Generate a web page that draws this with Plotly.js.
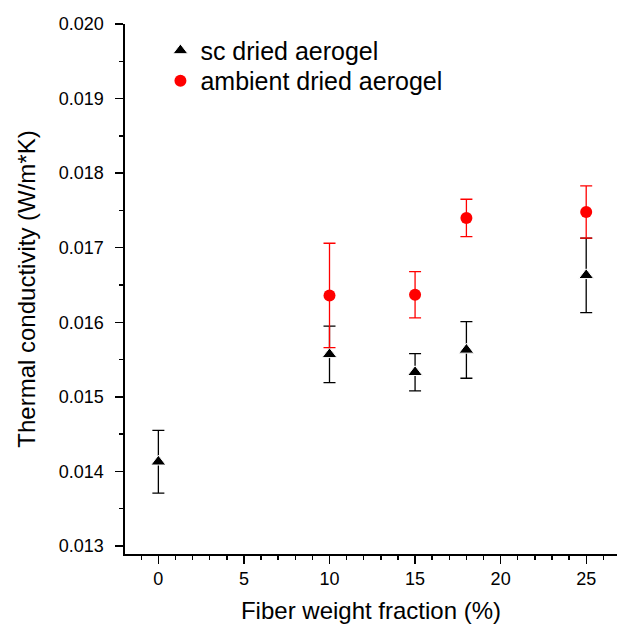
<!DOCTYPE html>
<html>
<head>
<meta charset="utf-8">
<script src="https://cdn.plot.ly/plotly-3.0.1.min.js"></script>
<style>html,body{margin:0;padding:0;background:#fff;}#chart{width:617px;height:628px;}</style>
</head>
<body>
<div id="chart"></div>
<script>
const scFiber = [0, 10, 15, 18, 25];
const scConductivity = [0.01413, 0.01557, 0.01533, 0.01563, 0.01663];
const scError = [0.00042, 0.00038, 0.00025, 0.00038, 0.00050];

const ambientFiber = [10, 15, 18, 25];
const ambientConductivity = [0.01636, 0.01637, 0.01740, 0.01748];
const ambientError = [0.00070, 0.00031, 0.00025, 0.00035];

const seriesNames = ["sc dried aerogel", "ambient dried aerogel"];
const xTitle = "Fiber weight fraction (%)";
const yTitle = "Thermal conductivity (W/m*K)";

const FONT = "Liberation Sans, Arial, sans-serif";

const traces = [
  {
    x: scFiber, y: scConductivity, name: seriesNames[0], type: "scatter", mode: "markers",
    legend: "legend",
    marker: {symbol: "triangle-up", size: 13, color: "#000000", line: {color: "#ffffff", width: 1}},
    error_y: {type: "data", array: scError, visible: true, color: "#000000", thickness: 1.3, width: 6}
  },
  {
    x: ambientFiber, y: ambientConductivity, name: seriesNames[1], type: "scatter", mode: "markers",
    legend: "legend2",
    marker: {symbol: "circle", size: 12, color: "#ff0000"},
    error_y: {type: "data", array: ambientError, visible: true, color: "#ff0000", thickness: 1.3, width: 6}
  }
];

const legendBase = {
  xanchor: "left", yanchor: "top",
  bgcolor: "rgba(0,0,0,0)", font: {family: FONT, size: 25, color: "#000000"},
  itemsizing: "trace"
};

const layout = {
  width: 617, height: 628,
  margin: {l: 125, r: 0, t: 24, b: 74},
  paper_bgcolor: "#ffffff", plot_bgcolor: "#ffffff",
  font: {family: FONT, size: 18, color: "#000000"},
  showlegend: true,
  legend: Object.assign({}, legendBase, {x: 0.072, y: 0.993}),
  legend2: Object.assign({}, legendBase, {x: 0.072, y: 0.936}),
  xaxis: {
    range: [-1.95, 26.8], showgrid: false, zeroline: false,
    showline: true, linecolor: "#000000", linewidth: 1.6,
    ticks: "outside", ticklen: 8, tickwidth: 1.4, tickcolor: "#000000",
    tickmode: "linear", tick0: 0, dtick: 5,
    minor: {ticks: "outside", ticklen: 4, tickwidth: 1.4, tickcolor: "#000000", dtick: 1, tick0: 0, showgrid: false},
    tickfont: {family: FONT, size: 18},
    title: {text: xTitle, font: {family: FONT, size: 24}, standoff: 14}
  },
  yaxis: {
    range: [0.012893, 0.020], showgrid: false, zeroline: false,
    showline: true, linecolor: "#000000", linewidth: 1.6,
    ticks: "outside", ticklen: 8, tickwidth: 1.4, tickcolor: "#000000",
    tickmode: "linear", tick0: 0.013, dtick: 0.001, tickformat: ".3f",
    ticklabelstandoff: 8,
    minor: {ticks: "outside", ticklen: 4, tickwidth: 1.4, tickcolor: "#000000", dtick: 0.0005, tick0: 0.013, showgrid: false},
    tickfont: {family: FONT, size: 18},
    title: {text: yTitle, font: {family: FONT, size: 24}, standoff: 16}
  }
};

Plotly.newPlot("chart", traces, layout, {displayModeBar: false, staticPlot: true});
</script>
</body>
</html>
